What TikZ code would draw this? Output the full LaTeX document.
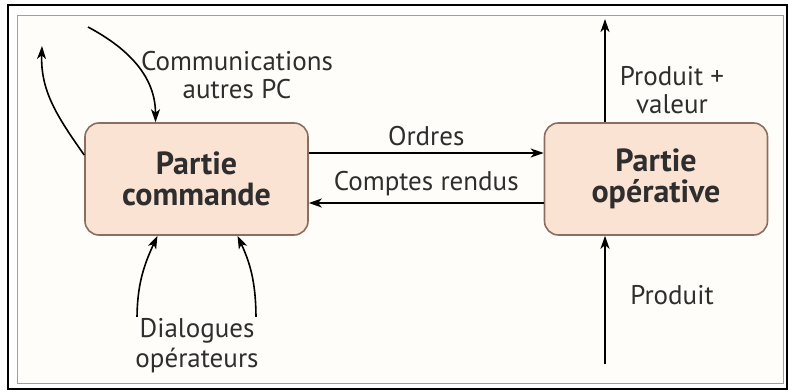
\documentclass[tikz,border=0pt]{standalone}
\usepackage{fontspec}
\setmainfont{PT Sans}
\usetikzlibrary{arrows.meta,positioning}
\definecolor{peach}{HTML}{FAE3D3}
\definecolor{rahmen}{HTML}{8C6E60}
\definecolor{schrift}{HTML}{2E2E2E}
\definecolor{creme}{HTML}{FFFDF9}

\begin{document}
\begin{tikzpicture}[
		x=0.5pt, y=-0.5pt,			% 1 Einheit = 1 Pixel der Vorlage
		>={Stealth[length=6.5pt,width=4.5pt,inset=1.8pt]},	% Standardpfeilspitzen
		node distance=229.75pt,		% Abstand zwischen den Knoten
		font=\fontsize{13.5}{14}\selectfont,	% Verwendete Schrift
		text=schrift
	]
	
	% Rahmen
	\useasboundingbox (0,0) rectangle (788,391);
	\draw[line width=0.5pt, rahmen!70, fill=creme] (17,15) rectangle (783,383);
	\draw[line width=0.9pt, black] (8,5) rectangle (787,389);
	
	% Knoten
	\node[draw=rahmen, line width=0.8pt, rectangle, rounded corners=7pt, fill=peach, minimum width=111.5pt, minimum height=56pt, align=center, font=\fontsize{16}{15.5}\selectfont\bfseries] (operative) at (656,179) {Partie\\opérative};
	\node[draw=rahmen, line width=0.8pt, rectangle, rounded corners=7pt, fill=peach, minimum width=111.5pt, minimum height=56pt, align=center, font=\fontsize{16}{15.5}\selectfont\bfseries, left of=operative] (commande) {Partie\\commande};
	
	% freie Enden
	\coordinate (retour) at (42,46);
	\coordinate (autres) at (88,27);
	\coordinate (dialA) at (137,320);
	\coordinate (dialB) at (256,320);
	\coordinate (sortie) at (605,19);
	\coordinate (entree) at (605,364);
	
	% Pfeile zwischen den Teilen
	\draw[->, line width=0.9pt] ([yshift=13pt]commande.east) -- node[above=0pt]{Ordres} ([yshift=13pt]operative.west);
	\draw[->, line width=0.9pt] ([yshift=-12pt]operative.west) -- node[above=0pt]{Comptes rendus} ([yshift=-12pt]commande.east);
	
	% Communications
	\draw[->, line width=0.8pt] ([yshift=12pt]commande.west) to[out=125, in=-92] (retour);
	\draw[->, line width=0.8pt] (autres) to[out=-28, in=90] ([xshift=-20.5pt]commande.north);
	\node[align=center] (comm) at (237,75) {Communications\\autres PC};
	
	% Dialogues
	\draw[->, line width=0.8pt] (dialA) to[out=90, in=-115] ([xshift=-19.5pt]commande.south);
	\draw[->, line width=0.8pt] (dialB) to[out=90, in=-65] ([xshift=20.5pt]commande.south);
	\node[align=center, fill=creme, inner sep=1pt, font=\fontsize{13.5}{15}\selectfont] (dial) at (197,346) {Dialogues\\opérateurs};
	
	% Produit
	\draw[->, line width=0.8pt] ([xshift=-25.5pt]operative.north) -- (sortie);
	\draw[->, line width=0.8pt] (entree) -- ([xshift=-25.5pt]operative.south);
	\node[align=center] (valeur) at (672,90) {Produit +\\valeur};
	\node (produit) at (672,295) {Produit};

\end{tikzpicture}
\end{document}
